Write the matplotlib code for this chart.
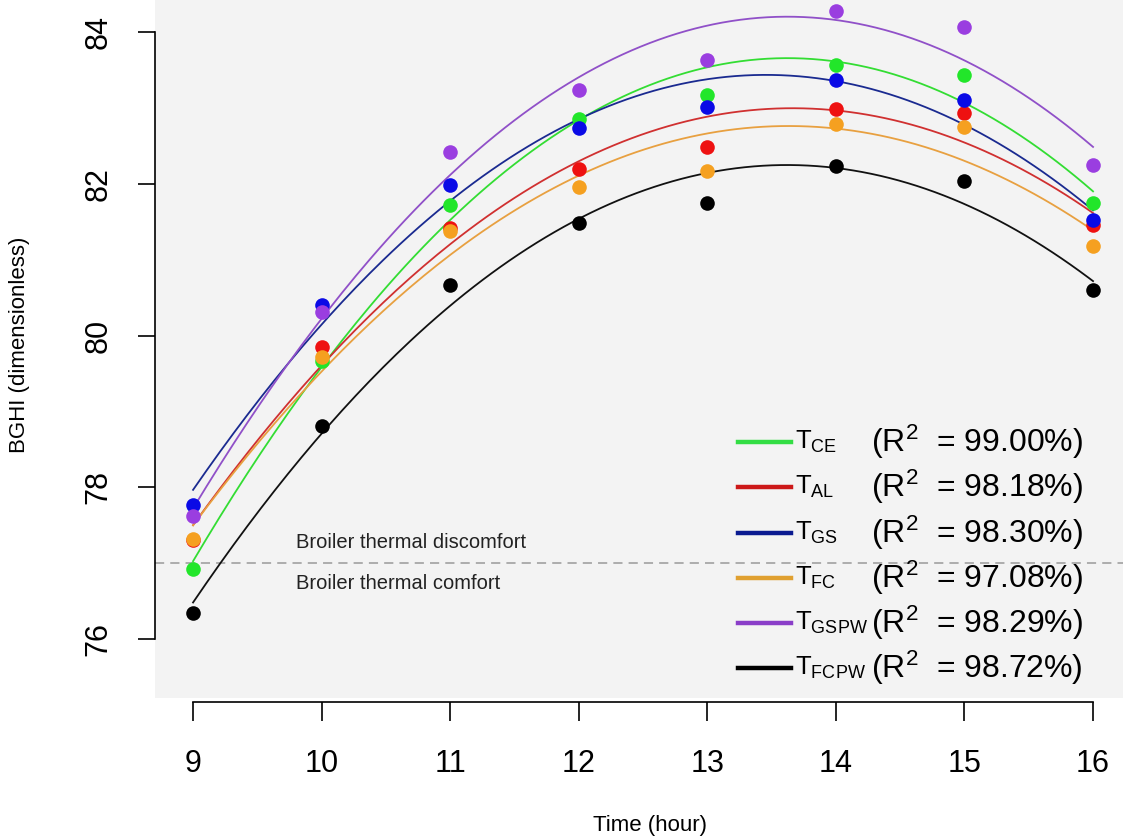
import numpy as np
import matplotlib
matplotlib.use("Agg")
import matplotlib.pyplot as plt
from matplotlib.lines import Line2D

plt.rcParams['font.family'] = ['Liberation Sans', 'DejaVu Sans']
plt.rcParams['mathtext.fontset'] = 'custom'
plt.rcParams['mathtext.rm'] = 'Liberation Sans'
plt.rcParams['mathtext.it'] = 'Liberation Sans:italic'

# data
hours = [9, 10, 11, 12, 13, 14, 15, 16]
t_ce = [76.93, 79.66, 81.72, 82.85, 83.17, 83.57, 83.43, 81.75]
t_al = [77.31, 79.85, 81.42, 82.19, 82.48, 82.98, 82.93, 81.45]
t_gs = [77.77, 80.40, 81.98, 82.74, 83.01, 83.37, 83.10, 81.52]
t_fc = [77.32, 79.72, 81.38, 81.96, 82.17, 82.79, 82.75, 81.18]
t_gspw = [77.62, 80.31, 82.42, 83.24, 83.63, 84.27, 84.07, 82.25]
t_fcpw = [76.35, 78.81, 80.67, 81.48, 81.75, 82.23, 82.03, 80.60]

names = ['CE', 'AL', 'GS', 'FC', 'GSPW', 'FCPW']
r2_labels = ['99.00%', '98.18%', '98.30%', '97.08%', '98.29%', '98.72%']
series = [t_ce, t_al, t_gs, t_fc, t_gspw, t_fcpw]
point_colors = ['#22e62a', '#ee1111', '#0a0ae6', '#f5a020', '#9a3ee0', '#000000']
curve_colors = ['#33dd33', '#d03030', '#1a2a90', '#e8a040', '#9050c8', '#111111']
legend_colors = ['#33dd44', '#cc1818', '#0a1a90', '#e0a030', '#8a3ec8', '#000000']
comfort_limit = 77

W, H = 1123, 838
fig = plt.figure(figsize=(W / 100, H / 100), dpi=100)
ax = fig.add_axes([155 / W, (H - 698) / H, (W - 155) / W, 698 / H])
ax.set_facecolor('#f3f3f3')
ax.set_xlim(8.704, 16.233)
ax.set_ylim(75.225, 84.42)

x = np.array(hours, dtype=float)
xs = np.linspace(9, 16, 200)
for vals, cc in zip(series, curve_colors):
    coef = np.polyfit(x, vals, 2)
    ax.plot(xs, np.polyval(coef, xs), color=cc, lw=1.3, zorder=2)
for vals, pc in zip(series, point_colors):
    ax.plot(x, vals, 'o', color=pc, ms=10.5, mec='none', zorder=3)

ax.axhline(comfort_limit, color='#999999', lw=1.1, ls=(0, (6, 4)), zorder=1)
ax.annotate('Broiler thermal discomfort', (9.8, comfort_limit), xytext=(0, 8),
            textcoords='offset points', fontsize=14.5, color='#222222', va='bottom')
ax.annotate('Broiler thermal comfort', (9.8, comfort_limit), xytext=(0, -8),
            textcoords='offset points', fontsize=14.5, color='#222222', va='top')

# R-style detached axes
for s in ['top', 'right']:
    ax.spines[s].set_visible(False)
ax.spines['left'].set_bounds(76, 84)
ax.spines['bottom'].set_bounds(9, 16)
ax.spines['bottom'].set_position(('outward', 3))
ax.spines['left'].set_linewidth(1.2)
ax.spines['bottom'].set_linewidth(1.2)
ax.set_xticks(hours)
ax.set_yticks([76, 78, 80, 82, 84])
ax.tick_params(axis='y', length=12, width=1.2, pad=18, labelsize=22)
ax.tick_params(axis='x', length=14, width=1.2, pad=20, labelsize=22)
plt.setp(ax.get_yticklabels(), rotation=90, va='center', ha='right')

fig.text(650 / W, 1 - 825 / H, 'Time (hour)', fontsize=16, ha='center', va='center')
fig.text(20 / W, 1 - 345 / H, 'BGHI (dimensionless)', fontsize=16, rotation=90,
         ha='center', va='center')

# legend drawn by hand so the R^2 parts line up
row_y = [442, 487, 533, 578, 623, 668]
for name, r2, lc, yy in zip(names, r2_labels, legend_colors, row_y):
    fy = 1 - yy / H
    fig.add_artist(Line2D([738 / W, 791 / W], [fy, fy], color=lc, lw=3.2))
    fig.text(795 / W, fy, r'T$_{\mathregular{%s}}$' % name, fontsize=18.5,
             ha='left', va='center')
    fig.text(871 / W, fy, '(R$^{2}$  = ' + r2 + ')', fontsize=23,
             ha='left', va='center')

fig.savefig('out.png', dpi=100)
